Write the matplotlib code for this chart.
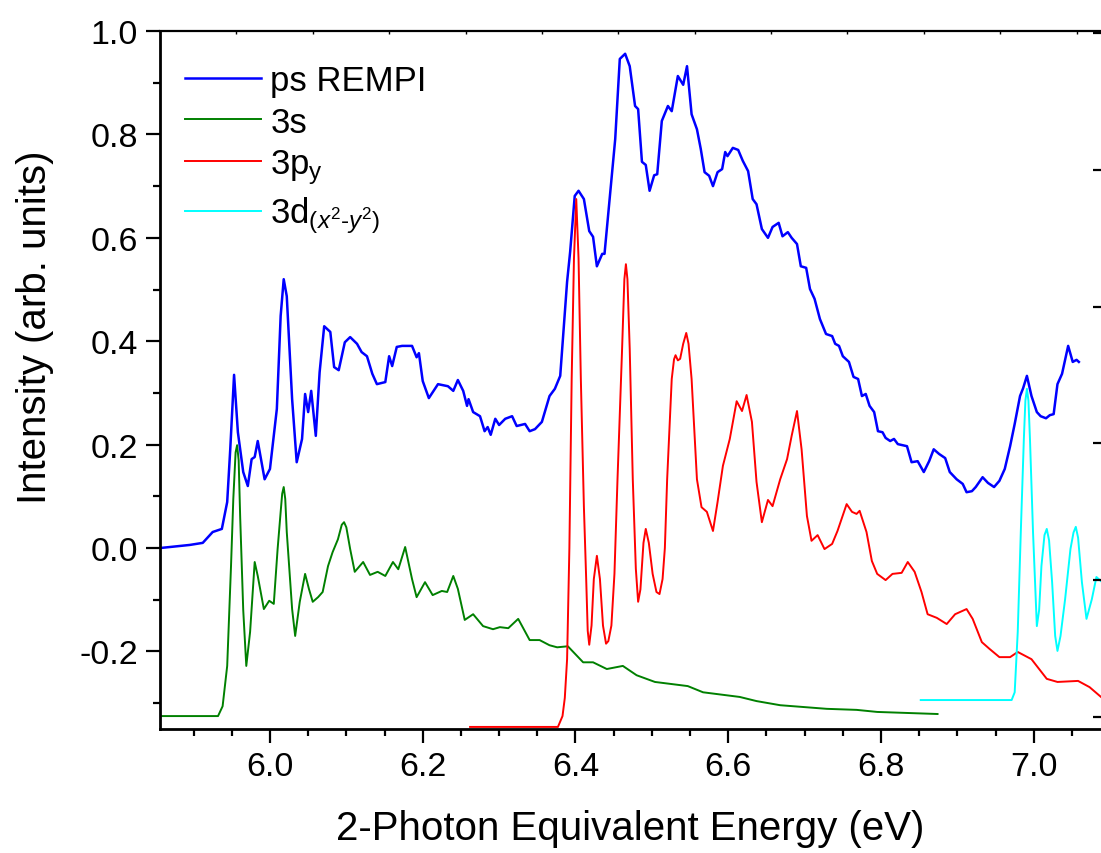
import matplotlib
matplotlib.use("Agg")
import matplotlib.pyplot as plt
from matplotlib.ticker import MultipleLocator

plt.rcParams['font.family'] = ['Liberation Sans', 'DejaVu Sans']
plt.rcParams['mathtext.fontset'] = 'custom'
plt.rcParams['mathtext.rm'] = 'Liberation Sans'
plt.rcParams['mathtext.it'] = 'Liberation Sans:italic'

# ps REMPI spectrum
rempi_x = [5.856, 5.895, 5.912, 5.925, 5.937, 5.944, 5.948, 5.953, 5.958, 5.965,
           5.971, 5.976, 5.980, 5.984, 5.993, 6.000, 6.009, 6.014, 6.018, 6.022,
           6.029, 6.035, 6.042, 6.046, 6.050, 6.054, 6.060, 6.065, 6.071, 6.079,
           6.084, 6.090, 6.098, 6.105, 6.114, 6.120, 6.127, 6.134, 6.140, 6.151,
           6.156, 6.160, 6.166, 6.173, 6.186, 6.192, 6.195, 6.200, 6.208, 6.220,
           6.233, 6.240, 6.246, 6.253, 6.258, 6.260, 6.266, 6.275, 6.281, 6.285,
           6.289, 6.295, 6.300, 6.308, 6.317, 6.323, 6.334, 6.340, 6.347, 6.356,
           6.366, 6.373, 6.380, 6.384, 6.389, 6.393, 6.399, 6.404, 6.411, 6.418,
           6.423, 6.428, 6.435, 6.438, 6.445, 6.452, 6.458, 6.465, 6.471, 6.478,
           6.482, 6.487, 6.492, 6.497, 6.503, 6.507, 6.513, 6.521, 6.526, 6.534,
           6.541, 6.546, 6.552, 6.559, 6.564, 6.569, 6.575, 6.580, 6.586, 6.592,
           6.596, 6.599, 6.606, 6.613, 6.619, 6.626, 6.632, 6.637, 6.644, 6.652,
           6.658, 6.666, 6.671, 6.678, 6.683, 6.690, 6.695, 6.702, 6.707, 6.713,
           6.720, 6.728, 6.736, 6.740, 6.745, 6.750, 6.758, 6.764, 6.770, 6.775,
           6.780, 6.785, 6.791, 6.796, 6.802, 6.806, 6.812, 6.817, 6.822, 6.834,
           6.840, 6.848, 6.856, 6.863, 6.869, 6.876, 6.884, 6.890, 6.899, 6.907,
           6.912, 6.919, 6.924, 6.933, 6.940, 6.948, 6.955, 6.962, 6.969, 6.975,
           6.982, 6.986, 6.991, 6.997, 7.004, 7.009, 7.016, 7.021, 7.026, 7.031,
           7.037, 7.045, 7.051, 7.056, 7.059]
rempi_y = [0.000, 0.006, 0.010, 0.031, 0.037, 0.089, 0.191, 0.335, 0.224, 0.147,
           0.120, 0.172, 0.176, 0.207, 0.133, 0.153, 0.269, 0.449, 0.520, 0.487,
           0.288, 0.166, 0.211, 0.298, 0.263, 0.304, 0.217, 0.340, 0.429, 0.418,
           0.350, 0.344, 0.398, 0.408, 0.395, 0.379, 0.371, 0.337, 0.317, 0.321,
           0.371, 0.352, 0.389, 0.391, 0.391, 0.369, 0.377, 0.323, 0.290, 0.317,
           0.313, 0.304, 0.325, 0.304, 0.275, 0.288, 0.263, 0.255, 0.226, 0.234,
           0.219, 0.250, 0.238, 0.250, 0.255, 0.236, 0.240, 0.226, 0.230, 0.244,
           0.294, 0.308, 0.333, 0.414, 0.515, 0.573, 0.681, 0.691, 0.675, 0.613,
           0.602, 0.545, 0.569, 0.569, 0.681, 0.791, 0.946, 0.956, 0.932, 0.855,
           0.849, 0.747, 0.741, 0.691, 0.721, 0.723, 0.826, 0.855, 0.845, 0.913,
           0.896, 0.932, 0.839, 0.810, 0.772, 0.727, 0.720, 0.700, 0.727, 0.733,
           0.766, 0.758, 0.774, 0.770, 0.749, 0.729, 0.675, 0.665, 0.617, 0.600,
           0.621, 0.629, 0.603, 0.611, 0.600, 0.588, 0.545, 0.542, 0.501, 0.482,
           0.443, 0.414, 0.410, 0.395, 0.391, 0.371, 0.360, 0.331, 0.327, 0.294,
           0.298, 0.275, 0.263, 0.226, 0.224, 0.213, 0.207, 0.211, 0.201, 0.197,
           0.166, 0.168, 0.147, 0.168, 0.191, 0.182, 0.174, 0.147, 0.133, 0.124,
           0.108, 0.110, 0.118, 0.137, 0.126, 0.118, 0.130, 0.153, 0.197, 0.240,
           0.294, 0.309, 0.333, 0.294, 0.263, 0.255, 0.251, 0.257, 0.259, 0.317,
           0.337, 0.391, 0.360, 0.364, 0.360]

# 3s simulation (offset)
s3_x = [5.856, 5.932, 5.938, 5.944, 5.949, 5.952, 5.955, 5.957, 5.959, 5.961,
        5.965, 5.969, 5.974, 5.980, 5.984, 5.992, 5.999, 6.005, 6.010, 6.014,
        6.016, 6.018, 6.020, 6.022, 6.029, 6.033, 6.039, 6.046, 6.051, 6.056,
        6.063, 6.069, 6.076, 6.082, 6.089, 6.094, 6.097, 6.100, 6.105, 6.111,
        6.122, 6.131, 6.141, 6.151, 6.161, 6.168, 6.177, 6.186, 6.192, 6.203,
        6.213, 6.225, 6.232, 6.240, 6.246, 6.255, 6.266, 6.279, 6.292, 6.301,
        6.312, 6.325, 6.340, 6.353, 6.366, 6.376, 6.390, 6.410, 6.423, 6.441,
        6.462, 6.480, 6.504, 6.547, 6.567, 6.615, 6.637, 6.668, 6.729, 6.768,
        6.795, 6.874]
s3_y = [-0.325, -0.325, -0.306, -0.228, -0.035, 0.095, 0.185, 0.199, 0.170, 0.060,
        -0.120, -0.228, -0.162, -0.027, -0.054, -0.118, -0.102, -0.108, -0.002, 0.070,
        0.105, 0.118, 0.095, 0.031, -0.118, -0.170, -0.104, -0.050, -0.079, -0.104,
        -0.095, -0.085, -0.035, -0.008, 0.017, 0.045, 0.050, 0.040, -0.002, -0.046,
        -0.027, -0.052, -0.046, -0.054, -0.027, -0.041, 0.002, -0.060, -0.095, -0.066,
        -0.091, -0.083, -0.085, -0.054, -0.079, -0.139, -0.128, -0.151, -0.157, -0.153,
        -0.155, -0.137, -0.178, -0.178, -0.188, -0.192, -0.190, -0.221, -0.221, -0.234,
        -0.228, -0.246, -0.259, -0.267, -0.279, -0.288, -0.296, -0.304, -0.311, -0.313,
        -0.317, -0.321]

# 3p_y simulation (offset)
p3_x = [6.262, 6.377, 6.383, 6.386, 6.389, 6.392, 6.395, 6.398, 6.401, 6.404,
        6.407, 6.411, 6.414, 6.416, 6.418, 6.421, 6.424, 6.428, 6.432, 6.436,
        6.440, 6.443, 6.447, 6.451, 6.455, 6.461, 6.464, 6.466, 6.468, 6.471,
        6.475, 6.479, 6.482, 6.485, 6.489, 6.492, 6.496, 6.501, 6.506, 6.510,
        6.514, 6.517, 6.520, 6.526, 6.529, 6.531, 6.534, 6.537, 6.541, 6.545,
        6.548, 6.552, 6.559, 6.565, 6.572, 6.580, 6.586, 6.593, 6.602, 6.611,
        6.618, 6.624, 6.631, 6.637, 6.644, 6.652, 6.658, 6.668, 6.677, 6.683,
        6.690, 6.696, 6.703, 6.709, 6.717, 6.726, 6.736, 6.743, 6.755, 6.762,
        6.768, 6.772, 6.781, 6.788, 6.795, 6.806, 6.815, 6.827, 6.835, 6.844,
        6.853, 6.861, 6.873, 6.886, 6.897, 6.912, 6.920, 6.932, 6.942, 6.955,
        6.969, 6.979, 6.997, 7.017, 7.031, 7.058, 7.073, 7.088]
p3_y = [-0.346, -0.346, -0.325, -0.290, -0.215, 0.000, 0.327, 0.560, 0.675, 0.560,
        0.327, 0.080, -0.060, -0.160, -0.187, -0.150, -0.060, -0.015, -0.060, -0.150,
        -0.185, -0.180, -0.150, -0.050, 0.133, 0.385, 0.520, 0.549, 0.520, 0.385,
        0.133, -0.040, -0.104, -0.080, 0.010, 0.037, 0.010, -0.050, -0.085, -0.089,
        -0.060, 0.000, 0.133, 0.327, 0.365, 0.373, 0.363, 0.366, 0.395, 0.416,
        0.395, 0.327, 0.133, 0.079, 0.070, 0.033, 0.089, 0.159, 0.211, 0.284,
        0.265, 0.296, 0.244, 0.128, 0.050, 0.093, 0.081, 0.133, 0.172, 0.217,
        0.265, 0.191, 0.062, 0.014, 0.025, -0.002, 0.008, 0.033, 0.085, 0.070,
        0.066, 0.072, 0.031, -0.025, -0.050, -0.062, -0.050, -0.048, -0.027, -0.046,
        -0.085, -0.128, -0.135, -0.147, -0.128, -0.118, -0.137, -0.182, -0.195, -0.211,
        -0.211, -0.201, -0.215, -0.253, -0.259, -0.257, -0.269, -0.288]

# 3d(x2-y2) simulation (offset)
d3_x = [6.852, 6.971, 6.975, 6.979, 6.983, 6.987, 6.989, 6.991, 6.993, 6.995,
        6.999, 7.004, 7.007, 7.010, 7.014, 7.017, 7.020, 7.024, 7.028, 7.031,
        7.035, 7.041, 7.048, 7.052, 7.055, 7.058, 7.063, 7.069, 7.076, 7.082,
        7.088]
d3_y = [-0.294, -0.294, -0.279, -0.162, 0.031, 0.211, 0.285, 0.308, 0.285, 0.211,
        0.031, -0.151, -0.120, -0.035, 0.025, 0.037, 0.015, -0.066, -0.170, -0.199,
        -0.170, -0.099, -0.002, 0.030, 0.041, 0.020, -0.066, -0.137, -0.099, -0.056,
        -0.064]

labels = ['ps REMPI', '3s', r'3p$_\mathrm{y}$', r'3d$_{(x^2\text{-}y^2)}$']

fig = plt.figure(figsize=(11.01, 8.54), dpi=100)
ax = fig.add_axes([0.1453, 0.1452, 0.8547, 0.8173])

ax.plot(rempi_x, rempi_y, color='#0000ff', lw=1.8, label=labels[0])
ax.plot(s3_x, s3_y, color='#008000', lw=1.4, label=labels[1])
ax.plot(p3_x, p3_y, color='#ff0000', lw=1.4, label=labels[2])
ax.plot(d3_x, d3_y, color='#00ffff', lw=1.4, label=labels[3])

ax.set_xlim(5.856, 7.088)
ax.set_ylim(-0.35, 1.0)
ax.xaxis.set_minor_locator(MultipleLocator(0.05))
ax.yaxis.set_minor_locator(MultipleLocator(0.1))
ax.set_xticks([6.0, 6.2, 6.4, 6.6, 6.8, 7.0])
ax.set_xticklabels(['6.0', '6.2', '6.4', '6.6', '6.8', '7.0'])
ax.set_yticks([-0.2, 0.0, 0.2, 0.4, 0.6, 0.8, 1.0])
ax.set_yticklabels(['-0.2', '0.0', '0.2', '0.4', '0.6', '0.8', '1.0'])

ax.tick_params(which='major', direction='out', length=10, width=1.6, labelsize=24.5, pad=6)
ax.tick_params(which='minor', direction='out', length=5, width=1.6)
ax.tick_params(top=False, right=False)

for side in ['left', 'bottom']:
    ax.spines[side].set_linewidth(2.0)
ax.spines['top'].set_linewidth(1.6)
ax.spines['right'].set_visible(False)

# right and top layer axes: ticks only
ax2 = ax.twinx()
ax2.set_ylim(-0.087, 5.015)
ax2.set_yticks([0, 1, 2, 3, 4, 5])
ax2.set_yticklabels([])
ax2.tick_params(direction='in', length=6, width=1.6)
for s in ax2.spines.values():
    s.set_visible(False)

ax3 = ax.twiny()
ax3.set_xlim(0, 12.32)
ax3.set_xticks(range(1, 13))
ax3.set_xticklabels([])
ax3.tick_params(direction='in', length=2, width=1.0)
for s in ax3.spines.values():
    s.set_visible(False)

ax.set_xlabel('2-Photon Equivalent Energy (eV)', fontsize=29, labelpad=19)
ax.set_ylabel('Intensity (arb. units)', fontsize=29)
ax.yaxis.set_label_coords(-0.113, 0.577)

ax.legend(loc='upper left', bbox_to_anchor=(0.0265, 0.953), frameon=False, fontsize=25,
          handlelength=2.2, handletextpad=0.26, labelspacing=0.25,
          borderpad=0, borderaxespad=0)

fig.savefig('out.png', dpi=100)
